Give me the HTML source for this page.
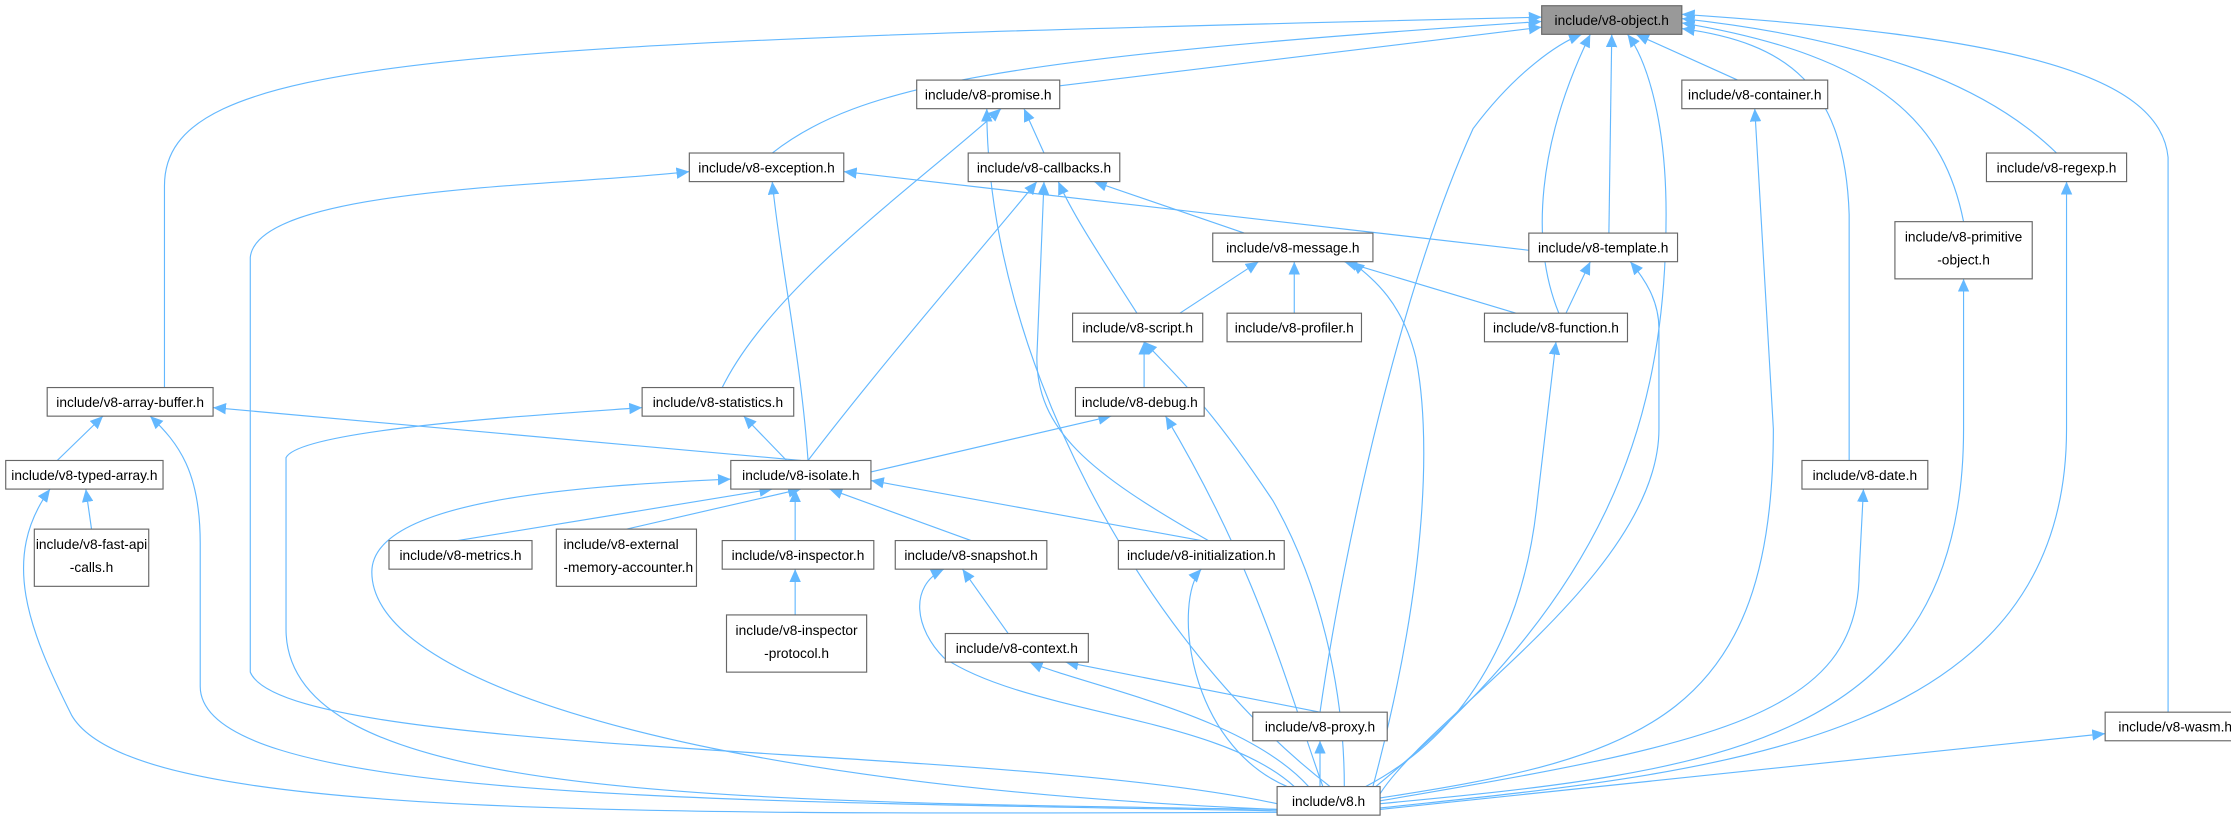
<!DOCTYPE html>
<html><head><meta charset="utf-8"><style>
html,body{margin:0;padding:0;background:#fff;}
svg{display:block;}
text{font-family:"Liberation Sans",sans-serif;font-size:9.6px;fill:#000;}
.n rect{fill:#fff;stroke:#666;stroke-width:0.8;}
.e{fill:none;stroke:#63b8ff;stroke-width:0.8;}
</style></head><body>
<svg width="2231" height="818" viewBox="0 0 1560 572" preserveAspectRatio="none" xmlns="http://www.w3.org/2000/svg">
<defs><marker id="a" markerUnits="userSpaceOnUse" markerWidth="10" markerHeight="8" refX="9" refY="4" orient="auto"><path d="M0,0 L9,4 L0,8 z" fill="#63b8ff"/></marker></defs>
<g marker-end="url(#a)">
<path class="e" d="M741,60 L1078,19"/>
<path class="e" d="M540,107 C600,60 700,40 1078,15"/>
<path class="e" d="M115,271 L115,130 C115,40 300,30 1078,12"/>
<path class="e" d="M1215,56 L1144,24"/>
<path class="e" d="M1125,163 L1127,24"/>
<path class="e" d="M1090,219 C1070,170 1075,100 1112,24"/>
<path class="e" d="M923,498 C940,380 980,200 1030,90 C1060,50 1090,30 1106,24"/>
<path class="e" d="M962,550 C1120,420 1165,300 1165,150 C1165,80 1150,40 1138,24"/>
<path class="e" d="M1293,322 L1293,150 C1290,60 1250,30 1176,20"/>
<path class="e" d="M1373,155 C1360,90 1320,40 1176,16"/>
<path class="e" d="M1438,107 C1400,70 1330,30 1176,13"/>
<path class="e" d="M1516,498 L1516,110 C1510,50 1400,25 1176,10"/>
<path class="e" d="M730,107 L716,76"/>
<path class="e" d="M505,271 C540,200 640,130 700,76"/>
<path class="e" d="M930,550 C800,450 690,250 690,76"/>
<path class="e" d="M1069,175 L590,120"/>
<path class="e" d="M565,322 C560,250 545,180 540,127"/>
<path class="e" d="M893,562 C700,520 200,530 175,470 L175,180 C180,130 400,130 482,120"/>
<path class="e" d="M870,163 L765,127"/>
<path class="e" d="M795,219 C770,180 750,150 740,127"/>
<path class="e" d="M565,322 C620,250 690,170 725,127"/>
<path class="e" d="M845,378 C760,330 725,300 725,250 L730,127"/>
<path class="e" d="M825,219 L880,183"/>
<path class="e" d="M905,219 L905,183"/>
<path class="e" d="M1060,219 L940,183"/>
<path class="e" d="M960,550 C1000,400 1000,300 990,250 C980,210 960,195 945,183"/>
<path class="e" d="M1095,219 L1112,183"/>
<path class="e" d="M965,555 C1000,500 1160,400 1160,300 L1160,230 C1160,210 1150,195 1140,183"/>
<path class="e" d="M965,565 C1200,540 1445,520 1445,300 L1445,127"/>
<path class="e" d="M965,562 C1200,540 1373,520 1373,300 L1373,195"/>
<path class="e" d="M965,558 C1150,530 1240,500 1240,300 L1227,76"/>
<path class="e" d="M965,560 C1200,520 1300,500 1300,400 L1303,342"/>
<path class="e" d="M965,566 L1472,513"/>
<path class="e" d="M955,550 C1050,500 1070,400 1075,350 L1088,239"/>
<path class="e" d="M940,550 C940,500 930,420 890,350 C850,290 830,270 800,239"/>
<path class="e" d="M925,550 C900,480 880,400 815,291"/>
<path class="e" d="M893,567 C500,560 140,560 140,480 L140,380 C140,330 125,310 105,291"/>
<path class="e" d="M893,566 C500,560 200,560 200,440 L200,320 C210,300 380,290 449,285"/>
<path class="e" d="M893,568 C400,570 90,570 50,500 C20,440 0,390 35,342"/>
<path class="e" d="M893,566 C500,550 260,480 260,400 C260,350 400,340 511,335"/>
<path class="e" d="M905,550 C850,500 720,500 660,460 C640,440 635,410 660,398"/>
<path class="e" d="M915,550 C870,500 760,480 720,463"/>
<path class="e" d="M923,550 L923,518"/>
<path class="e" d="M900,550 C830,520 820,420 840,398"/>
<path class="e" d="M64,370 L60,342"/>
<path class="e" d="M40,322 L72,291"/>
<path class="e" d="M560,322 L149,285"/>
<path class="e" d="M550,322 L520,291"/>
<path class="e" d="M800,271 L800,239"/>
<path class="e" d="M609,330 L777,291"/>
<path class="e" d="M320,378 L540,342"/>
<path class="e" d="M438,370 L560,342"/>
<path class="e" d="M556,378 L556,342"/>
<path class="e" d="M679,378 L580,342"/>
<path class="e" d="M840,378 L609,336"/>
<path class="e" d="M556,430 L556,398"/>
<path class="e" d="M705,443 L673,398"/>
<path class="e" d="M923,498 L745,463"/>
</g>
<g class="n">
<rect x="1078" y="4" width="98" height="20" style="fill:#999"/><text x="1127" y="17.5" text-anchor="middle">include/v8-object.h</text>
<rect x="641" y="56" width="100" height="20"/><text x="691" y="69.5" text-anchor="middle">include/v8-promise.h</text>
<rect x="1176" y="56" width="102" height="20"/><text x="1227" y="69.5" text-anchor="middle">include/v8-container.h</text>
<rect x="482" y="107" width="108" height="20"/><text x="536" y="120.5" text-anchor="middle">include/v8-exception.h</text>
<rect x="677" y="107" width="106" height="20"/><text x="730" y="120.5" text-anchor="middle">include/v8-callbacks.h</text>
<rect x="1389" y="107" width="98" height="20"/><text x="1438" y="120.5" text-anchor="middle">include/v8-regexp.h</text>
<rect x="848" y="163" width="112" height="20"/><text x="904" y="176.5" text-anchor="middle">include/v8-message.h</text>
<rect x="1069" y="163" width="104" height="20"/><text x="1121" y="176.5" text-anchor="middle">include/v8-template.h</text>
<rect x="1325" y="155" width="96" height="40"/><text x="1373" y="169" text-anchor="middle">include/v8-primitive</text><text x="1373" y="185" text-anchor="middle">-object.h</text>
<rect x="750" y="219" width="91" height="20"/><text x="795.5" y="232.5" text-anchor="middle">include/v8-script.h</text>
<rect x="858" y="219" width="94" height="20"/><text x="905" y="232.5" text-anchor="middle">include/v8-profiler.h</text>
<rect x="1038" y="219" width="100" height="20"/><text x="1088" y="232.5" text-anchor="middle">include/v8-function.h</text>
<rect x="33" y="271" width="116" height="20"/><text x="91" y="284.5" text-anchor="middle">include/v8-array-buffer.h</text>
<rect x="449" y="271" width="106" height="20"/><text x="502" y="284.5" text-anchor="middle">include/v8-statistics.h</text>
<rect x="752" y="271" width="90" height="20"/><text x="797" y="284.5" text-anchor="middle">include/v8-debug.h</text>
<rect x="4" y="322" width="110" height="20"/><text x="59" y="335.5" text-anchor="middle">include/v8-typed-array.h</text>
<rect x="511" y="322" width="98" height="20"/><text x="560" y="335.5" text-anchor="middle">include/v8-isolate.h</text>
<rect x="1260" y="322" width="88" height="20"/><text x="1304" y="335.5" text-anchor="middle">include/v8-date.h</text>
<rect x="24" y="370" width="80" height="40"/><text x="64" y="384" text-anchor="middle">include/v8-fast-api</text><text x="64" y="400" text-anchor="middle">-calls.h</text>
<rect x="272" y="378" width="100" height="20"/><text x="322" y="391.5" text-anchor="middle">include/v8-metrics.h</text>
<rect x="389" y="370" width="98" height="40"/><text x="394" y="384">include/v8-external</text><text x="394" y="400">-memory-accounter.h</text>
<rect x="505" y="378" width="106" height="20"/><text x="558" y="391.5" text-anchor="middle">include/v8-inspector.h</text>
<rect x="626" y="378" width="106" height="20"/><text x="679" y="391.5" text-anchor="middle">include/v8-snapshot.h</text>
<rect x="782" y="378" width="116" height="20"/><text x="840" y="391.5" text-anchor="middle">include/v8-initialization.h</text>
<rect x="508" y="430" width="98" height="40"/><text x="557" y="444" text-anchor="middle">include/v8-inspector</text><text x="557" y="460" text-anchor="middle">-protocol.h</text>
<rect x="661" y="443" width="100" height="20"/><text x="711" y="456.5" text-anchor="middle">include/v8-context.h</text>
<rect x="876" y="498" width="94" height="20"/><text x="923" y="511.5" text-anchor="middle">include/v8-proxy.h</text>
<rect x="1472" y="498" width="98" height="20"/><text x="1521" y="511.5" text-anchor="middle">include/v8-wasm.h</text>
<rect x="893" y="550" width="72" height="20"/><text x="929" y="563.5" text-anchor="middle">include/v8.h</text>
</g>
</svg>
</body></html>
